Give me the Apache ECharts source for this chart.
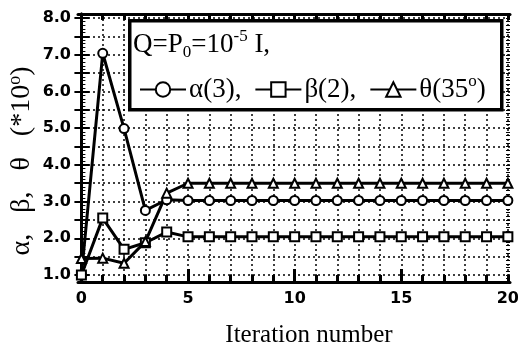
<!DOCTYPE html>
<html><head><meta charset="utf-8">
<script src="https://cdn.jsdelivr.net/npm/echarts@6/dist/echarts.min.js"></script>
<style>html,body{margin:0;padding:0;background:#fff}#c{width:518px;height:352px}</style>
</head><body><div id="c"></div>
<script>
const iterations = [0,1,2,3,4,5,6,7,8,9,10,11,12,13,14,15,16,17,18,19,20];
const alpha = [1.0,7.04,4.99,2.76,3.05,3.03,3.03,3.03,3.03,3.03,3.03,3.03,3.03,3.03,3.03,3.03,3.03,3.03,3.03,3.03,3.03];
const beta  = [1.0,2.55,1.70,1.88,2.17,2.04,2.04,2.04,2.04,2.04,2.04,2.04,2.04,2.04,2.04,2.04,2.04,2.04,2.04,2.04,2.04];
const theta = [1.45,1.46,1.32,1.91,3.23,3.5,3.5,3.5,3.5,3.5,3.5,3.5,3.5,3.5,3.5,3.5,3.5,3.5,3.5,3.5,3.5];
const seriesNames = ['α(3)','β(2)','θ(35)'];
const yLabelValues = [1,2,3,4,5,6,7,8];
const yGridValues = [1,1.5,2,2.5,3,3.5,4,4.5,5,5.5,6,6.5,7,7.5,8];
const xLabelValues = [0,5,10,15,20];
const xGridValues = [0,1,2,3,4,5,6,7,8,9,10,11,12,13,14,15,16,17,18,19,20];
const xMajorTickValues = [5,10,15];
const yMinorValues = [];
for (let k = 9; k <= 81; k++) yMinorValues.push(k/10);

const chart = echarts.init(document.getElementById('c'), null, {renderer:'canvas'});
const pairs = a => iterations.map((x,i)=>[x,a[i]]);
const serif = '"Liberation Serif", "Times New Roman", serif';
const sans = '"DejaVu Sans", Arial, sans-serif';
function mk(name, data, symbol, size){
  return {name, type:'line', data:pairs(data), symbol, symbolSize:size,
    lineStyle:{color:'#000', width:3}, itemStyle:{color:'#fff', borderColor:'#000', borderWidth:2},
    z: 3};
}
const X_MIN=-0.16, X_MAX=20.1, Y_MIN=0.81, Y_MAX=8.11;
const axisLineStyle = {show:true, lineStyle:{color:'#000', width:3}};
const gridLine = {show:true, lineStyle:{color:'#000', type:[2,3], width:1.5}};
chart.setOption({
  animation:false,
  backgroundColor:'#fff',
  grid:{left:78, right:8, top:14, bottom:70, outerBoundsMode:'none', containLabel:false},
  xAxis:[{
    type:'value', min:X_MIN, max:X_MAX,
    axisLine:axisLineStyle,
    axisTick:{show:true, inside:true, length:7, customValues:xGridValues, lineStyle:{width:3,color:'#000'}},
    axisLabel:{customValues:xLabelValues, fontFamily:sans, fontWeight:'bold', fontSize:16, color:'#000', margin:9,
      formatter:v=>String(Math.round(v))},
    splitLine:gridLine,
    name:'Iteration number', nameLocation:'middle', nameGap:41, nameMoveOverlap:false,
    nameTextStyle:{fontFamily:serif, fontSize:25, color:'#000', padding:[0,0,0,30]}
  },{
    type:'value', position:'top', min:X_MIN, max:X_MAX,
    axisLine:axisLineStyle,
    axisTick:{show:true, inside:true, length:6, customValues:xGridValues, lineStyle:{width:3,color:'#000'}},
    axisLabel:{show:false}, splitLine:{show:false}
  },{
    type:'value', position:'bottom', min:X_MIN, max:X_MAX,
    axisLine:{show:false},
    axisTick:{show:true, inside:true, length:13, customValues:xMajorTickValues, lineStyle:{width:3,color:'#000'}},
    axisLabel:{show:false}, splitLine:{show:false}
  }],
  yAxis:[{
    type:'value', min:Y_MIN, max:Y_MAX,
    axisLine:axisLineStyle,
    axisTick:{show:true, inside:true, length:8, customValues:yGridValues, lineStyle:{width:2,color:'#000'}},
    axisLabel:{customValues:yLabelValues, fontFamily:sans, fontWeight:'bold', fontSize:16, color:'#000', margin:7,
      formatter:v=>v.toFixed(1)},
    splitLine:gridLine,
    name:'α,   β,   θ   (*10{sup|o})', nameLocation:'middle', nameGap:40, nameRotate:90, nameMoveOverlap:false,
    nameTextStyle:{fontFamily:serif, fontSize:28, color:'#000', padding:[0,26,0,0],
      rich:{sup:{fontFamily:serif, fontSize:18, color:'#000', verticalAlign:'top', padding:[0,0,14,0]}}}
  },{
    type:'value', position:'right', min:Y_MIN, max:Y_MAX,
    axisLine:axisLineStyle,
    axisTick:{show:true, inside:true, length:7, customValues:yGridValues, lineStyle:{width:2,color:'#000'}},
    axisLabel:{show:false}, splitLine:{show:false}
  },{
    type:'value', position:'left', min:Y_MIN, max:Y_MAX,
    axisLine:{show:false},
    axisTick:{show:true, inside:true, length:4, customValues:yMinorValues, lineStyle:{width:1,color:'#000'}},
    axisLabel:{show:false}, splitLine:{show:false}
  },{
    type:'value', position:'right', min:Y_MIN, max:Y_MAX,
    axisLine:{show:false},
    axisTick:{show:true, inside:true, length:4, customValues:yMinorValues, lineStyle:{width:1,color:'#000'}},
    axisLabel:{show:false}, splitLine:{show:false}
  }],
  legend:{
    left:134, top:68, itemWidth:46, itemHeight:18, itemGap:13,
    data:seriesNames,
    formatter:n=>{
      if(n==='θ(35)') return 'θ(35{sup|o})';
      return n+',';
    },
    textStyle:{fontFamily:serif, fontSize:27, color:'#000', padding:[0,0,0,-2],
      rich:{sup:{fontFamily:serif, fontSize:17, color:'#000', verticalAlign:'top', padding:[0,0,16,0]}}},
    z:10
  },
  graphic:[{
    type:'rect', left:128, top:19, z:5,
    shape:{width:372, height:89},
    style:{fill:'#fff', stroke:'#000', lineWidth:3.5}
  },{
    type:'text', left:133, top:28, z:6,
    style:{text:'Q=P{sub|0}=10{sup|-5} I,', fill:'#000', font:'27px '+serif,
      rich:{sub:{fontFamily:serif, fontSize:17, fill:'#000', padding:[16,0,0,0]},
            sup:{fontFamily:serif, fontSize:17, fill:'#000', padding:[0,0,16,0]}}}
  }],
  series:[mk(seriesNames[0], alpha, 'circle', 9), mk(seriesNames[1], beta, 'rect', 9), mk(seriesNames[2], theta, 'triangle', 9)]
});
</script></body></html>
